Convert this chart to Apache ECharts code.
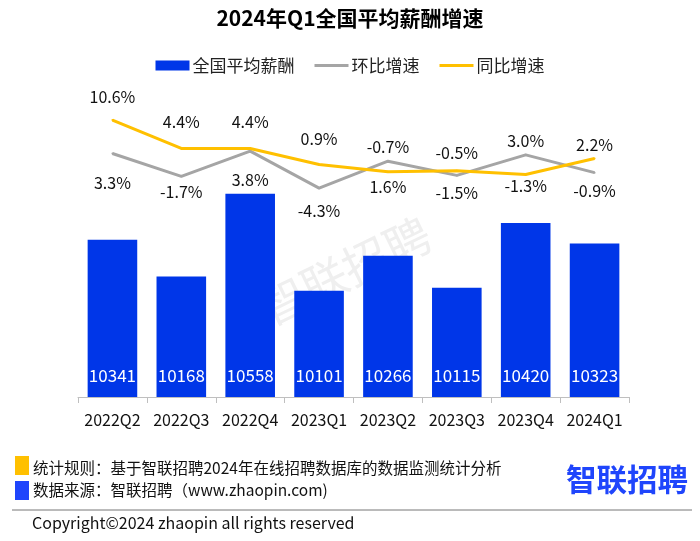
<!DOCTYPE html>
<html>
<head>
<meta charset="utf-8">
<title>2024年Q1全国平均薪酬增速</title>
<script src="https://cdn.jsdelivr.net/npm/echarts@6/dist/echarts.min.js"></script>
<style>
html,body{margin:0;padding:0;background:#fff;}
#main{width:700px;height:541px;}
</style>
</head>
<body>
<div id="main"></div>
<script>
// 数据
var quarters=['2022Q2','2022Q3','2022Q4','2023Q1','2023Q2','2023Q3','2023Q4','2024Q1'];
var salary=[10341,10168,10558,10101,10266,10115,10420,10323];
var qoq=[3.3,-1.7,3.8,-4.3,1.6,-1.5,3.0,-0.9];   //环比增速
var yoy=[10.6,4.4,4.4,0.9,-0.7,-0.5,-1.3,2.2];   //同比增速

//标签微调（像素，向下为正），仅为避让
var qoqNudge=[6,-7,6,0,3,-5,9,-5];
var yoyNudge=[0,-4,-4,-3,-2,5,-12,9];

var FONT='"Noto Sans CJK SC", "Noto Sans", sans-serif';
var myChart=echarts.init(document.getElementById('main'));

//折线标签位置：2023Q4 两条线的标签互换上下
function lineData(arr,pos,swapIdx,nudge){
	return arr.map(function(v,i){
		var p=pos;
		if(i===swapIdx){p=(pos==='top')?'bottom':'top';}
		return {value:v,label:{show:true,position:p,offset:[0,nudge[i]]}};
	});
}

var option={
	backgroundColor:'#fff',
	textStyle:{fontFamily:FONT},
	title:{
		text:'2024年Q1全国平均薪酬增速',
		left:'center',top:3,
		textStyle:{fontFamily:FONT,fontSize:21,fontWeight:'bold',color:'#000'}
	},
	legend:{
		top:52,left:'center',
		itemWidth:34,itemHeight:10,itemGap:20,
		textStyle:{fontFamily:FONT,fontSize:17,color:'#222',padding:[0,0,0,-2]},
		data:[
			{name:'全国平均薪酬',icon:'rect'},
			{name:'环比增速',icon:'path://M0,4L34,4L34,7L0,7Z'},
			{name:'同比增速',icon:'path://M0,4L34,4L34,7L0,7Z'}
		]
	},
	grid:{left:78,right:71,top:100,bottom:144},
	xAxis:{
		type:'category',
		data:quarters,
		axisLine:{onZero:false,lineStyle:{color:'#bfbfbf',width:1}},
		axisTick:{show:true,length:6,lineStyle:{color:'#bfbfbf'}},
		axisLabel:{interval:0,fontFamily:FONT,fontSize:16,color:'#111',margin:15}
	},
	yAxis:[
		{type:'value',min:9600,max:11000,show:false,splitLine:{show:false}},
		{type:'value',min:-50,max:15,show:false,splitLine:{show:false}}
	],
	graphic:[
		{
			type:'text',x:345,y:271,rotation:0.45,z:-10,
			style:{text:'智联招聘',font:'46px '+FONT,fill:'#efefef',textAlign:'center',textVerticalAlign:'middle'}
		},
		{type:'rect',shape:{x:15,y:456,width:14,height:19},style:{fill:'#FFC000'}},
		{type:'rect',shape:{x:15,y:481,width:14,height:19},style:{fill:'#1F45FC'}},
		{
			type:'text',left:33,top:460,
			style:{text:'统计规则：基于智联招聘2024年在线招聘数据库的数据监测统计分析',font:'15.5px '+FONT,fill:'#111'}
		},
		{
			type:'text',left:33,top:482,
			style:{text:'数据来源：智联招聘（www.zhaopin.com)',font:'15.5px '+FONT,fill:'#111'}
		},
		{
			type:'text',left:566,top:464,
			style:{text:'智联招聘',font:'bold 30.5px '+FONT,fill:'#1F45FC'}
		},
		{type:'line',shape:{x1:12,y1:510,x2:692,y2:510},style:{stroke:'#777',lineWidth:1}},
		{
			type:'text',left:32,top:515,
			style:{text:'Copyright©2024 zhaopin all rights reserved',font:'16px '+FONT,fill:'#111'}
		}
	],
	series:[
		{
			name:'全国平均薪酬',type:'bar',
			data:salary,
			barWidth:'72%',
			itemStyle:{color:'#0036E8'},
			label:{show:true,position:'insideBottom',distance:13,color:'#fff',fontFamily:FONT,fontSize:17}
		},
		{
			name:'环比增速',type:'line',yAxisIndex:1,
			data:lineData(qoq,'bottom',6,qoqNudge),
			symbol:'circle',symbolSize:2,showSymbol:true,
			lineStyle:{color:'#A5A5A5',width:3},
			itemStyle:{color:'#A5A5A5'},
			label:{show:true,distance:14,color:'#111',fontFamily:FONT,fontSize:16,
				formatter:function(p){return p.value.toFixed(1)+'%';}},
			z:3
		},
		{
			name:'同比增速',type:'line',yAxisIndex:1,
			data:lineData(yoy,'top',6,yoyNudge),
			symbol:'circle',symbolSize:2,showSymbol:true,
			lineStyle:{color:'#FFC000',width:3},
			itemStyle:{color:'#FFC000'},
			label:{show:true,distance:14,color:'#111',fontFamily:FONT,fontSize:16,
				formatter:function(p){return p.value.toFixed(1)+'%';}},
			z:4
		}
	]
};
myChart.setOption(option);
window.addEventListener('resize',function(){myChart.resize();});
</script>
</body>
</html>
